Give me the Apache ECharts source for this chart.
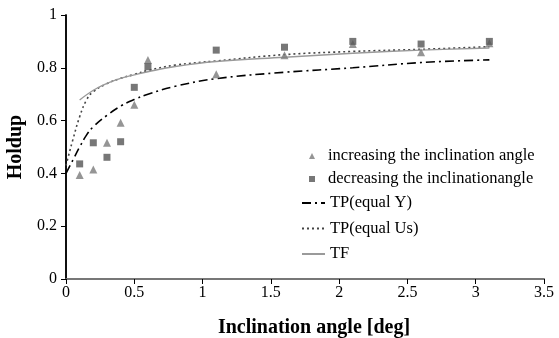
<!DOCTYPE html>
<html>
<head>
<meta charset="utf-8">
<script src="https://cdn.jsdelivr.net/npm/echarts@6/dist/echarts.min.js"></script>
<style>
  html, body { margin: 0; padding: 0; background: #fff; }
  #chart { width: 559px; height: 338px; }
</style>
</head>
<body>
<div id="chart"></div>
<script>
// Measured holdup, inclination increased step by step
const incAngle = [0.1, 0.2, 0.3, 0.4, 0.5, 0.6, 1.1, 1.6, 2.1, 2.6, 3.1];
const incHoldup = [0.394, 0.415, 0.516, 0.592, 0.66, 0.83, 0.776, 0.848, 0.89, 0.859, 0.893];

// Measured holdup, inclination decreased step by step
const decAngle = [0.1, 0.2, 0.3, 0.4, 0.5, 0.6, 1.1, 1.6, 2.1, 2.6, 3.1];
const decHoldup = [0.436, 0.516, 0.461, 0.52, 0.726, 0.804, 0.867, 0.878, 0.90, 0.89, 0.90];

// Two-phase model, equal Y
const tpYAngle = [0, 0.05, 0.1, 0.15, 0.2, 0.3, 0.4, 0.5, 0.6, 0.8, 1.1, 1.6, 2.1, 2.6, 3.1];
const tpYHoldup = [0.40, 0.45, 0.50, 0.545, 0.577, 0.62, 0.655, 0.68, 0.70, 0.73, 0.759, 0.783, 0.80, 0.82, 0.83];

// Two-phase model, equal Us
const tpUsAngle = [0, 0.02, 0.05, 0.1, 0.15, 0.2, 0.3, 0.4, 0.5, 0.6, 0.8, 1.1, 1.6, 2.1, 2.6, 3.1];
const tpUsHoldup = [0.43, 0.47, 0.527, 0.615, 0.678, 0.71, 0.74, 0.76, 0.775, 0.79, 0.81, 0.826, 0.85, 0.862, 0.87, 0.88];

// Three-fluid model
const tfAngle = [0.1, 0.2, 0.3, 0.4, 0.5, 0.6, 0.8, 1.1, 1.6, 2.1, 2.6, 3.1];
const tfHoldup = [0.678, 0.715, 0.741, 0.76, 0.773, 0.785, 0.805, 0.824, 0.84, 0.855, 0.867, 0.875];

const xTicks = [0, 0.5, 1, 1.5, 2, 2.5, 3, 3.5];
const yTicks = [0, 0.2, 0.4, 0.6, 0.8, 1];

const pairs = (xs, ys) => xs.map((x, i) => [x, ys[i]]);
const serif = '"Liberation Serif", "DejaVu Serif", serif';

const chart = echarts.init(document.getElementById('chart'), null, { renderer: 'canvas' });

const legendText = { fontFamily: serif, fontSize: 16.5, color: '#000', lineHeight: 18 };

chart.setOption({
  animation: false,
  backgroundColor: '#fff',
  grid: { left: 66, right: 15, top: 15, bottom: 59, containLabel: false, outerBoundsMode: 'none' },
  legend: [
    {
      // marker entries: small symbols
      orient: 'vertical',
      left: 309,
      top: 147,
      padding: 0,
      itemGap: 5,
      itemWidth: 6,
      itemHeight: 6,
      textStyle: Object.assign({ padding: [0, 0, 0, 8] }, legendText),
      data: [
        { name: 'increasing the inclination angle', icon: 'triangle', itemStyle: { color: '#7a7a7a' } },
        { name: 'decreasing the inclinationangle', icon: 'rect', itemStyle: { color: '#555' } }
      ]
    },
    {
      // model curve entries: line samples
      orient: 'vertical',
      left: 301,
      top: 194,
      padding: 0,
      itemGap: 7.5,
      itemWidth: 23,
      itemHeight: 14,
      itemStyle: { opacity: 0 },
      textStyle: legendText,
      data: ['TP(equal Y)', 'TP(equal Us)', 'TF']
    }
  ],
  xAxis: [
    {
      type: 'value', min: 0, max: 3.5, interval: 0.5,
      axisLine: { show: true, lineStyle: { color: '#000', width: 1.5 } },
      axisTick: { show: true, inside: false, length: 5, lineStyle: { color: '#000' } },
      axisLabel: {
        fontFamily: serif, fontSize: 16, color: '#000', margin: 6,
        formatter: v => (xTicks.includes(v) ? String(v) : '')
      },
      splitLine: { show: false },
      name: 'Inclination angle [deg]',
      nameLocation: 'middle',
      nameGap: 39,
      nameTextStyle: { fontFamily: serif, fontSize: 20, fontWeight: 'bold', color: '#000', padding: [0, 0, 0, 18] }
    },
    {
      type: 'value', min: 0, max: 3.5, position: 'top',
      axisLine: { show: true, lineStyle: { color: '#8a8a8a', width: 1.5 } },
      axisTick: { show: false }, axisLabel: { show: false }, splitLine: { show: false }
    }
  ],
  yAxis: [
    {
      type: 'value', min: 0, max: 1, interval: 0.2,
      axisLine: { show: true, lineStyle: { color: '#000', width: 1.5 } },
      axisTick: { show: true, inside: false, length: 5, lineStyle: { color: '#000' } },
      axisLabel: {
        fontFamily: serif, fontSize: 16, color: '#000', margin: 9,
        formatter: v => (yTicks.includes(+v.toFixed(1)) ? String(+v.toFixed(1)) : '')
      },
      splitLine: { show: false },
      name: 'Holdup',
      nameLocation: 'middle',
      nameGap: 38,
      nameRotate: 90,
      nameTextStyle: { fontFamily: serif, fontSize: 20, fontWeight: 'bold', color: '#000' }
    },
    {
      type: 'value', min: 0, max: 1, position: 'right',
      axisLine: { show: true, lineStyle: { color: '#000', width: 1.5 } },
      axisTick: { show: false }, axisLabel: { show: false }, splitLine: { show: false }
    }
  ],
  series: [
    {
      name: 'TP(equal Y)', type: 'line', smooth: 0.4, symbol: 'none',
      data: pairs(tpYAngle, tpYHoldup),
      lineStyle: { color: '#000', width: 1.6, type: [9, 4, 2, 4] },
      itemStyle: { color: '#000' }, z: 2
    },
    {
      name: 'TP(equal Us)', type: 'line', smooth: 0.4, symbol: 'none',
      data: pairs(tpUsAngle, tpUsHoldup),
      lineStyle: { color: '#444', width: 1.6, type: [2, 3] },
      itemStyle: { color: '#444' }, z: 2
    },
    {
      name: 'TF', type: 'line', smooth: 0.4, symbol: 'none',
      data: pairs(tfAngle, tfHoldup),
      lineStyle: { color: '#9a9a9a', width: 1.4 },
      itemStyle: { color: '#9a9a9a' }, z: 2
    },
    {
      name: 'increasing the inclination angle', type: 'scatter', symbol: 'triangle', symbolSize: 8,
      data: pairs(incAngle, incHoldup),
      itemStyle: { color: '#7a7a7a' }, z: 3
    },
    {
      name: 'decreasing the inclinationangle', type: 'scatter', symbol: 'rect', symbolSize: 7,
      data: pairs(decAngle, decHoldup),
      itemStyle: { color: '#555' }, z: 4
    }
  ]
});
</script>
</body>
</html>
